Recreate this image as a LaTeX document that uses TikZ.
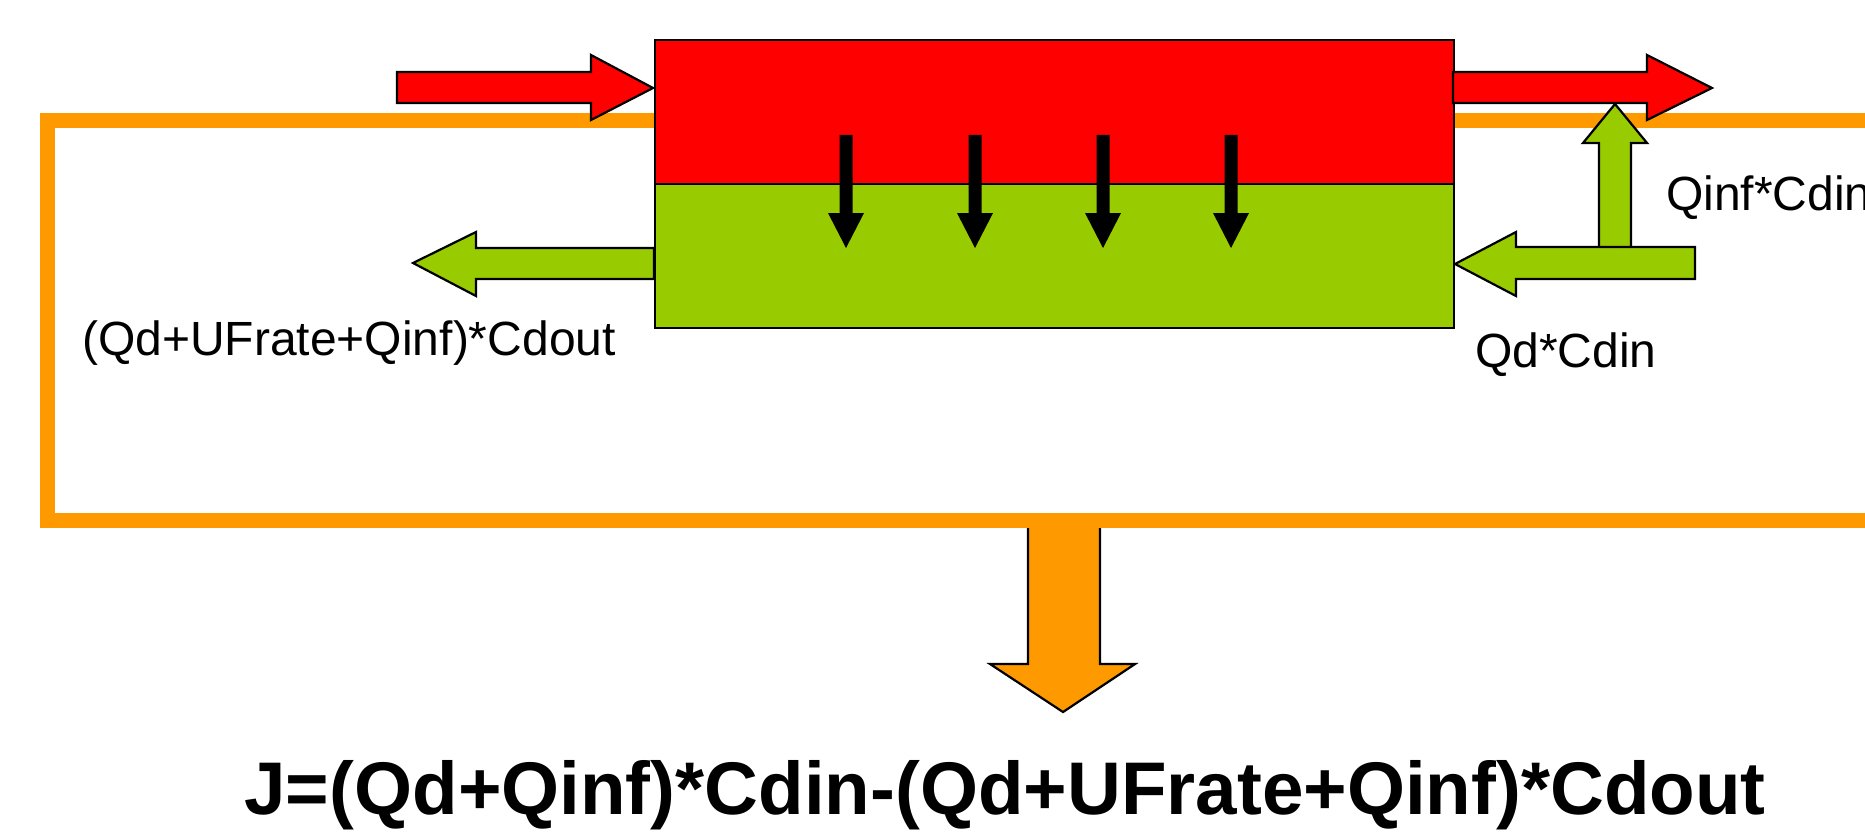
\documentclass[tikz,border=0pt]{standalone}
\usepackage{fontspec}
\setmainfont{Liberation Sans}
\definecolor{bred}{HTML}{FF0000}
\definecolor{dgreen}{HTML}{99CC00}
\definecolor{orng}{HTML}{FF9900}
\tikzset{
  blockarrow/.style={draw=black, line width=2.2pt, line join=miter},
  half/.style={draw=black, line width=2.2pt, inner sep=0pt, minimum width=799pt, minimum height=144pt, anchor=north west},
  lbl/.style={inner sep=0pt, anchor=base west, font=\fontsize{48}{58}\selectfont},
  eqn/.style={inner sep=0pt, anchor=base, font=\fontsize{74.6}{90}\selectfont\bfseries},
  flux/.style={fill=black}
}
\begin{document}
\begin{tikzpicture}[x=1pt,y=-1pt]
\useasboundingbox (0,0) rectangle (1865,840);
\clip (0,0) rectangle (1865,840);
\fill[white] (0,0) rectangle (1865,840);

% orange output arrow (behind frame)
\path[blockarrow, fill=orng] (1028,520) -- (1028,664) -- (990,664) -- (1063,712) -- (1135,664) -- (1100,664) -- (1100,520) -- cycle;

% orange frame (runs off the right edge)
\draw[orng, line width=15pt] (1900,121) -- (47,121) -- (47,520) -- (1900,520);

% dialyser: blood side and dialysate side
\node[half, fill=bred] (blood) at (654,39) {};
\node[half, fill=dgreen] (dial) at (654,183) {};

% blood in / out
\path[blockarrow, fill=bred] (397,72) -- (591,72) -- (591,55) -- (653,88) -- (591,120) -- (591,103) -- (397,103) -- cycle;
\path[blockarrow, fill=bred] (1453,72) -- (1647,72) -- (1647,55) -- (1712,88) -- (1647,120) -- (1647,103) -- (1453,103) -- cycle;

% dialysate: infusion branch, inlet, outlet
\path[blockarrow, fill=dgreen] (1599,250) -- (1599,143) -- (1583,143) -- (1615,104) -- (1647,143) -- (1631,143) -- (1631,250) -- cycle;
\path[blockarrow, fill=dgreen] (1695,247) -- (1516,247) -- (1516,232) -- (1455,264) -- (1516,296) -- (1516,279) -- (1695,279) -- cycle;
\path[blockarrow, fill=dgreen] (654,248) -- (476,248) -- (476,232) -- (413,263) -- (476,296) -- (476,279) -- (654,279) -- cycle;

% transmembrane flux arrows
\foreach \xc in {846,975,1103,1231}{
  \fill[flux] (\xc-6.5,135) -- (\xc+6.5,135) -- (\xc+6.5,213) -- (\xc+18,213) -- (\xc,248) -- (\xc-18,213) -- (\xc-6.5,213) -- cycle;
}

% labels
\node[lbl] (lout) at (82,355) {(Qd+UFrate+Qinf)*Cdout};
\node[lbl] (lin) at (1475,367) {Qd*Cdin};
\node[lbl] (linf) at (1666,210) {Qinf*Cdin};
\node[eqn] (jeq) at (1005,814) {J=(Qd+Qinf)*Cdin-(Qd+UFrate+Qinf)*Cdout};
\end{tikzpicture}
\end{document}
